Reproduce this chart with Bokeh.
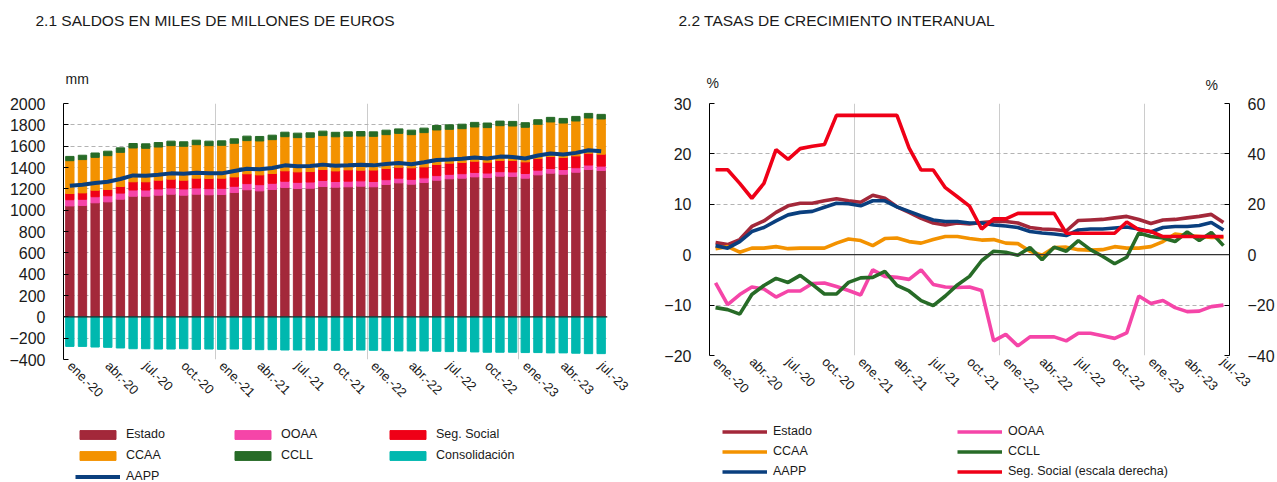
import math
from bokeh.plotting import figure
from bokeh.models import (ColumnDataSource, FixedTicker, SingleIntervalTicker, LinearAxis,
                          Range1d, Span, Label, Legend, LegendItem)
from bokeh.layouts import row, column
from bokeh.embed import file_html
from bokeh.resources import INLINE

# ---------------- data ----------------
months = ["ene.-20", "feb.-20", "mar.-20", "abr.-20", "may.-20", "jun.-20", "jul.-20", "ago.-20", "sep.-20", "oct.-20", "nov.-20", "dic.-20",
          "ene.-21", "feb.-21", "mar.-21", "abr.-21", "may.-21", "jun.-21", "jul.-21", "ago.-21", "sep.-21", "oct.-21", "nov.-21", "dic.-21",
          "ene.-22", "feb.-22", "mar.-22", "abr.-22", "may.-22", "jun.-22", "jul.-22", "ago.-22", "sep.-22", "oct.-22", "nov.-22", "dic.-22",
          "ene.-23", "feb.-23", "mar.-23", "abr.-23", "may.-23", "jun.-23", "jul.-23"]
tick_labels = ["ene.-20", "abr.-20", "jul.-20", "oct.-20", "ene.-21", "abr.-21", "jul.-21", "oct.-21",
               "ene.-22", "abr.-22", "jul.-22", "oct.-22", "ene.-23", "abr.-23", "jul.-23"]

# 2.1 saldos (mm euros)
estado = [1040, 1044, 1069, 1078, 1103, 1131, 1131, 1141, 1150, 1141, 1150, 1144, 1147, 1166, 1191, 1181, 1194, 1213, 1203, 1206, 1222, 1216,
          1219, 1225, 1219, 1241, 1256, 1244, 1259, 1281, 1294, 1300, 1312, 1306, 1319, 1316, 1300, 1331, 1347, 1337, 1356, 1381, 1372]
ooaa = [58, 58, 57, 57, 57, 58, 58, 58, 58, 58, 58, 58, 58, 58, 58, 58, 58, 58, 58, 58, 57, 53,
        53, 50, 50, 45, 44, 45, 44, 43, 42, 42, 42, 42, 42, 42, 44, 44, 44, 44, 42, 42, 41]
segsoc = [58, 60, 61, 59, 62, 77, 77, 82, 83, 82, 92, 95, 95, 88, 92, 92, 92, 98, 98, 98, 102, 99,
          106, 100, 107, 105, 103, 108, 103, 104, 105, 105, 105, 102, 105, 108, 109, 109, 112, 113, 111, 111, 112]
ccaa = [308, 312, 308, 317, 320, 317, 314, 311, 314, 318, 314, 308, 308, 315, 311, 318, 317, 320, 321, 321, 318, 320,
        314, 320, 316, 317, 317, 311, 321, 324, 317, 317, 321, 324, 326, 323, 324, 321, 324, 323, 327, 330, 330]
ccll = [40, 41, 41, 42, 42, 42, 42, 42, 42, 42, 42, 42, 42, 42, 42, 42, 42, 42, 42, 42, 42, 42,
        42, 42, 42, 42, 42, 42, 42, 42, 42, 42, 43, 43, 43, 43, 43, 43, 43, 43, 43, 43, 43]
consolidacion = [-277, -277, -283, -286, -292, -299, -299, -302, -302, -299, -305, -302, -305, -302, -305, -308, -308, -311, -311, -311, -314, -314,
                 -314, -311, -314, -317, -320, -320, -320, -323, -326, -323, -329, -332, -332, -332, -335, -335, -338, -338, -341, -345, -345]
aapp = [1229, 1239, 1254, 1267, 1292, 1326, 1323, 1332, 1345, 1342, 1351, 1345, 1345, 1367, 1389, 1383, 1395, 1420, 1411, 1414, 1427, 1416,
        1420, 1426, 1420, 1433, 1442, 1430, 1449, 1471, 1474, 1483, 1493, 1484, 1502, 1499, 1484, 1512, 1531, 1521, 1537, 1561, 1552]

# 2.2 tasas de crecimiento interanual (%)
g_estado = [2.4, 2.0, 3.0, 5.6, 6.7, 8.4, 9.7, 10.2, 10.2, 10.7, 11.1, 10.7, 10.4, 11.8, 11.2, 9.5, 8.4, 7.2, 6.3, 5.9, 6.3, 6.1,
            6.4, 6.6, 6.6, 6.3, 5.4, 5.1, 5.0, 4.7, 6.8, 6.9, 7.0, 7.3, 7.6, 7.0, 6.2, 6.9, 7.0, 7.3, 7.6, 8.0, 6.4]
g_ooaa = [-5.6, -9.9, -7.9, -6.4, -6.8, -8.4, -7.2, -7.2, -5.7, -5.6, -6.3, -7.1, -8.0, -3.0, -4.3, -4.5, -4.9, -3.0, -5.9, -6.4, -6.5, -6.4,
          -7.1, -17.1, -15.8, -18.1, -16.3, -16.3, -16.3, -17.1, -15.6, -15.6, -16.1, -16.6, -15.5, -8.2, -9.7, -9.1, -10.5, -11.3, -11.2, -10.3, -10.0]
g_ccaa = [1.2, 1.6, 0.5, 1.3, 1.3, 1.6, 1.2, 1.3, 1.3, 1.3, 2.3, 3.1, 2.8, 1.8, 3.2, 3.3, 2.6, 2.3, 3.0, 3.6, 3.6, 3.2,
          2.9, 3.0, 2.3, 2.2, 0.7, -0.1, 1.4, 1.5, 1.0, 0.9, 1.0, 1.6, 1.3, 1.3, 1.6, 2.6, 4.1, 3.8, 3.6, 3.4, 3.4]
g_ccll = [-10.5, -10.9, -11.8, -7.9, -6.1, -4.7, -5.5, -4.1, -5.9, -7.8, -7.8, -5.5, -4.6, -4.5, -3.3, -6.1, -7.2, -9.1, -10.1, -8.2, -6.0, -4.3,
          -1.2, 0.7, 0.5, -0.1, 1.4, -1.0, 1.5, 0.7, 2.8, 1.0, -0.3, -1.8, -0.5, 4.3, 3.6, 3.3, 2.6, 4.5, 2.8, 4.4, 1.8]
g_aapp = [1.8, 1.3, 2.6, 4.6, 5.4, 6.7, 7.9, 8.4, 8.6, 9.4, 10.2, 10.1, 9.7, 10.7, 10.7, 9.5, 8.6, 7.7, 6.9, 6.6, 6.6, 6.3,
          6.3, 5.9, 5.7, 5.4, 4.6, 4.3, 4.1, 3.8, 4.9, 5.1, 5.1, 5.3, 5.5, 5.1, 4.5, 5.4, 5.6, 5.6, 5.8, 6.4, 4.9]
g_segsoc = [33.7, 33.7, 28.3, 22.4, 28.3, 41.7, 37.8, 42.1, 43.0, 43.7, 55.3, 55.3, 55.3, 55.3, 55.3, 55.3, 42.4, 33.6, 33.6, 26.6, 23.0, 19.3,
            10.2, 14.2, 14.2, 16.4, 16.4, 16.4, 16.4, 8.5, 8.5, 8.5, 8.5, 8.5, 13.0, 9.9, 9.2, 7.2, 7.2, 7.2, 7.2, 7.2, 7.2]

# ---------------- style ----------------
C_ESTADO = "#A3283A"
C_OOAA = "#F545A8"
C_SEGSOC = "#EF0017"
C_CCAA = "#F39200"
C_CCLL = "#276B27"
C_CONS = "#00B8AF"
C_AAPP = "#0A3F7E"

REG = "Liberation Sans"
TXT = "#1a1a1a"
HEAD_H, FOOT_H = 95, 72
MAIN_H = 482 - HEAD_H - FOOT_H
W1, W2 = 640, 637

x = list(range(len(months)))
tick_pos = [months.index(t) for t in tick_labels]
overrides = {i: months[i] for i in tick_pos}
year_bounds = [11.5, 23.5, 35.5]


def style(p, interval):
    p.outline_line_color = None
    p.background_fill_color = "white"
    p.border_fill_color = "white"
    p.ygrid.ticker = SingleIntervalTicker(interval=interval)
    p.ygrid.grid_line_color = "#b3b3b3"
    p.ygrid.grid_line_dash = "4 3"
    p.xgrid.ticker = FixedTicker(ticks=year_bounds)
    p.xgrid.grid_line_color = "#cccccc"
    p.xgrid.grid_line_width = 1
    ya = p.yaxis[0]
    ya.ticker = SingleIntervalTicker(interval=interval)
    ya.axis_line_color = "black"
    ya.major_tick_line_color = "black"
    ya.major_tick_in = 5
    ya.major_tick_out = 0
    ya.minor_tick_line_color = None
    ya.major_label_text_font = REG
    ya.major_label_text_font_size = "16px"
    ya.major_label_text_color = TXT
    ya.major_label_standoff = 14
    xa = p.xaxis[0]
    xa.ticker = FixedTicker(ticks=tick_pos)
    xa.major_label_overrides = overrides
    xa.major_label_orientation = -math.pi / 4
    xa.axis_line_color = None
    xa.major_tick_line_color = None
    xa.major_tick_in = 0
    xa.major_tick_out = 0
    xa.minor_tick_line_color = None
    xa.major_label_text_font = REG
    xa.major_label_text_font_size = "13px"
    xa.major_label_text_color = TXT
    xa.major_label_standoff = 4


def blank(width, height):
    f = figure(width=width, height=height, x_range=Range1d(0, width), y_range=Range1d(0, height),
               output_backend="svg", toolbar_location=None, title=None,
               x_axis_location=None, y_axis_location=None, frame_align=False,
               min_border_left=0, min_border_right=0, min_border_top=0, min_border_bottom=0)
    f.grid.visible = False
    f.outline_line_color = None
    f.background_fill_color = "white"
    f.border_fill_color = "white"
    # range far away from the visible frame: legend proxies drawn there stay out of sight
    f.extra_y_ranges = {"hide": Range1d(1e6, 2e6)}
    return f


def add_text(f, s, xs, ys, size):
    f.add_layout(Label(x=xs, y=ys, text=s, text_font=REG, text_font_size=size,
                       text_color=TXT, text_baseline="middle", text_align="left"))


def legend(items, ncols, loc, label_width, spacing):
    return Legend(items=items, location=loc, orientation="horizontal", ncols=ncols,
                  glyph_width=45, glyph_height=11, label_height=14, label_width=label_width,
                  label_standoff=6, spacing=spacing, padding=0, margin=0,
                  border_line_color=None, background_fill_alpha=0,
                  label_text_font=REG, label_text_font_size="12.5px", label_text_color=TXT)


# ---------------- 2.1 ----------------
src = ColumnDataSource(dict(x=x, Estado=estado, OOAA=ooaa, SegSocial=segsoc, CCAA=ccaa, CCLL=ccll,
                            cons=consolidacion, aapp=aapp))

p1 = figure(width=W1, height=MAIN_H, x_range=Range1d(-0.5, 42.5), y_range=Range1d(-400, 2000),
            output_backend="svg", toolbar_location=None, title=None, frame_align=False,
            min_border_left=63, min_border_right=33, min_border_top=103 - HEAD_H,
            min_border_bottom=MAIN_H - (103 - HEAD_H) - 256)
style(p1, 200)

stack = p1.vbar_stack(["Estado", "OOAA", "SegSocial", "CCAA", "CCLL"], x="x", width=0.66,
                      color=[C_ESTADO, C_OOAA, C_SEGSOC, C_CCAA, C_CCLL], source=src)
r_cons = p1.vbar(x="x", top="cons", bottom=0, width=0.66, color=C_CONS, source=src)
p1.add_layout(Span(location=0, dimension="width", line_color="#222222", line_width=1.2))
r_aapp = p1.line("x", "aapp", line_color=C_AAPP, line_width=4, source=src)

h1 = blank(W1, HEAD_H)
add_text(h1, "2.1 SALDOS EN MILES DE MILLONES DE EUROS", 35, HEAD_H - 20, "15.5px")
add_text(h1, "mm", 65, HEAD_H - 78, "14px")

f1 = blank(W1, FOOT_H)
items1 = []
for name, field, col in [("Estado", "Estado", C_ESTADO), ("OOAA", "OOAA", C_OOAA), ("Seg. Social", "SegSocial", C_SEGSOC),
                         ("CCAA", "CCAA", C_CCAA), ("CCLL", "CCLL", C_CCLL), ("Consolidación", "cons", C_CONS)]:
    r = f1.vbar(x="x", top=field, width=0.66, color=col, source=src, y_range_name="hide")
    items1.append(LegendItem(label=name, renderers=[r]))
r = f1.line("x", "aapp", line_color=C_AAPP, line_width=4, source=src, y_range_name="hide")
items1.append(LegendItem(label="AAPP", renderers=[r]))
f1.add_layout(legend(items1, 3, (75, -1), 97, 7))

# ---------------- 2.2 ----------------
src2 = ColumnDataSource(dict(x=x, estado=g_estado, ooaa=g_ooaa, ccaa=g_ccaa, ccll=g_ccll, aapp=g_aapp, ss=g_segsoc))

p2 = figure(width=W2, height=MAIN_H, x_range=Range1d(-0.5, 42.5), y_range=Range1d(-20, 30),
            output_backend="svg", toolbar_location=None, title=None, frame_align=False,
            min_border_left=69, min_border_right=40, min_border_top=103 - HEAD_H,
            min_border_bottom=MAIN_H - (103 - HEAD_H) - 252)
p2.extra_y_ranges = {"right": Range1d(-40, 60)}
style(p2, 10)
ax_r = LinearAxis(y_range_name="right", ticker=SingleIntervalTicker(interval=20))
ax_r.axis_line_color = "black"
ax_r.major_tick_line_color = "black"
ax_r.major_tick_in = 5
ax_r.major_tick_out = 0
ax_r.minor_tick_line_color = None
ax_r.major_label_text_font = REG
ax_r.major_label_text_font_size = "16px"
ax_r.major_label_text_color = TXT
ax_r.major_label_standoff = 14
p2.add_layout(ax_r, "right")
p2.add_layout(Span(location=0, dimension="width", line_color="#333333", line_width=1.2))

LW = 3.6
p2.line("x", "estado", line_color=C_ESTADO, line_width=LW, source=src2)
p2.line("x", "ooaa", line_color=C_OOAA, line_width=LW, source=src2)
p2.line("x", "ccaa", line_color=C_CCAA, line_width=LW, source=src2)
p2.line("x", "ccll", line_color=C_CCLL, line_width=LW, source=src2)
p2.line("x", "aapp", line_color=C_AAPP, line_width=LW, source=src2)
p2.line("x", "ss", line_color=C_SEGSOC, line_width=LW, source=src2, y_range_name="right")

h2 = blank(W2, HEAD_H)
add_text(h2, "2.2 TASAS DE CRECIMIENTO INTERANUAL", 38, HEAD_H - 20, "15.5px")
add_text(h2, "%", 66, HEAD_H - 82, "14px")
add_text(h2, "%", 565, HEAD_H - 84, "14px")

f2 = blank(W2, FOOT_H)
items2 = []
for name, field, col in [("Estado", "estado", C_ESTADO), ("OOAA", "ooaa", C_OOAA), ("CCAA", "ccaa", C_CCAA),
                         ("CCLL", "ccll", C_CCLL), ("AAPP", "aapp", C_AAPP), ("Seg. Social (escala derecha)", "ss", C_SEGSOC)]:
    r = f2.line("x", field, line_color=col, line_width=LW, source=src2, y_range_name="hide")
    items2.append(LegendItem(label=name, renderers=[r]))
f2.add_layout(legend(items2, 2, (82, 4), 178, 6))

layout = row(column(h1, p1, f1), column(h2, p2, f2))
open("out.html", "w").write(file_html(layout, INLINE))
